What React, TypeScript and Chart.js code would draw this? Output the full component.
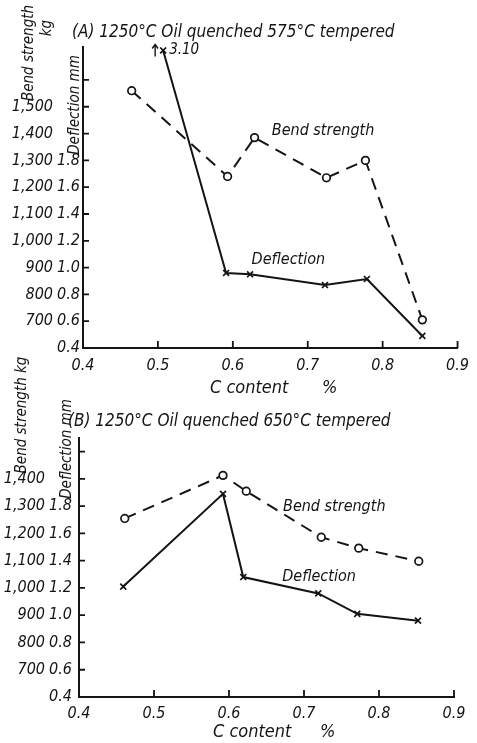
import React, { useEffect, useRef } from "react";
import { Chart, registerables } from "chart.js";
Chart.register(...registerables);

const FONT = '"Liberation Sans Narrow", "DejaVu Sans Condensed", "Arial Narrow", sans-serif';
const INK = "#141414";

// ---------- shared axis data ----------
const X_TICKS = [0.4, 0.5, 0.6, 0.7, 0.8, 0.9];
const DEFL_LABELS = [0.4, 0.6, 0.8, 1.0, 1.2, 1.4, 1.6, 1.8];
// bend strength (kg) = 700 + (deflection(mm) - 0.6) * 500
const bendFromDefl = (d: number) => 700 + (d - 0.6) * 500;

// ---------- panel A ----------
const A_TITLE = "(A) 1250°C Oil quenched 575°C tempered";
const A_BEND_C = [0.465, 0.593, 0.629, 0.725, 0.777, 0.853];
const A_BEND = [1560, 1240, 1385, 1235, 1300, 705];
const A_DEFL_C = [0.507, 0.591, 0.623, 0.723, 0.779, 0.853];
const A_DEFL = [3.1, 0.96, 0.95, 0.87, 0.915, 0.49];
const A_DEFL_CAP = 2.62; // off-scale values are drawn here, with an arrow
const A_DEFL_TICKS = [0.4, 0.6, 0.8, 1.0, 1.2, 1.4, 1.6, 1.8, 2.0, 2.2, 2.4];
const A_BEND_LABELS = [700, 800, 900, 1000, 1100, 1200, 1300, 1400, 1500];

// ---------- panel B ----------
const B_TITLE = "(B) 1250°C Oil quenched 650°C tempered";
const B_BEND_C = [0.461, 0.592, 0.623, 0.723, 0.773, 0.853];
const B_BEND = [1255, 1413, 1355, 1186, 1146, 1098];
const B_DEFL_C = [0.459, 0.592, 0.619, 0.719, 0.771, 0.852];
const B_DEFL = [1.21, 1.89, 1.28, 1.16, 1.01, 0.96];
const B_DEFL_CAP = 9;
const B_DEFL_TICKS = [0.4, 0.6, 0.8, 1.0, 1.2, 1.4, 1.6, 1.8, 2.0, 2.2];
const B_BEND_LABELS = [700, 800, 900, 1000, 1100, 1200, 1300, 1400];

type Spec = {
  title: string;
  bendC: number[]; bend: number[];
  deflC: number[]; defl: number[]; cap: number;
  deflTicks: number[]; bendLabels: number[];
  deflMax: number;
  L: any;
};

const PANELS: Spec[] = [
  {
    title: A_TITLE, bendC: A_BEND_C, bend: A_BEND, deflC: A_DEFL_C, defl: A_DEFL, cap: A_DEFL_CAP,
    deflTicks: A_DEFL_TICKS, bendLabels: A_BEND_LABELS, deflMax: 2.646,
    L: {
      top: 0, height: 395, areaTop: 47, padRight: 16, xHeight: 47, defW: 28, bendW: 55,
      defPad: 3, xPad: 8,
      titleX: 72, titleY: 33,
      xTitleX: 210, xPctX: 322, xTitleY: 388,
      bendTitle: [{ t: "Bend strength", x: 29, y: 53 }, { t: "kg", x: 47, y: 28 }],
      deflTitle: { t: "Deflection mm", x: 75, y: 105 },
      bendLabel: [0.652, 2.02], deflLabel: [0.625, 1.057],
    },
  },
  {
    title: B_TITLE, bendC: B_BEND_C, bend: B_BEND, deflC: B_DEFL_C, defl: B_DEFL, cap: B_DEFL_CAP,
    deflTicks: B_DEFL_TICKS, bendLabels: B_BEND_LABELS, deflMax: 2.3,
    L: {
      top: 340, height: 403, areaTop: 98, padRight: 23, xHeight: 46, defW: 32, bendW: 47,
      defPad: 7, xPad: 7,
      titleX: 68, titleY: 422,
      xTitleX: 213, xPctX: 320, xTitleY: 732,
      bendTitle: [{ t: "Bend strength kg", x: 22, y: 415 }],
      deflTitle: { t: "Deflection mm", x: 67, y: 449 },
      bendLabel: [0.672, 1.792], deflLabel: [0.671, 1.279],
    },
  },
];

const tickFont = { family: FONT, size: 16, style: "italic" as const };

function decor(p: Spec) {
  return {
    id: "decor",
    afterDraw(chart: any) {
      const ctx: CanvasRenderingContext2D = chart.ctx;
      const a = chart.chartArea;
      const xS = chart.scales.x;
      const yD = chart.scales.yDef;
      const L = p.L;
      const off = L.top;
      ctx.save();
      ctx.strokeStyle = INK;
      ctx.fillStyle = INK;
      ctx.lineWidth = 1.8;
      // inward tick marks
      ctx.beginPath();
      for (const d of p.deflTicks) {
        const y = yD.getPixelForValue(d);
        ctx.moveTo(a.left, y);
        ctx.lineTo(a.left + 6, y);
      }
      for (const v of X_TICKS.slice(1)) {
        const x = xS.getPixelForValue(v);
        ctx.moveTo(x, a.bottom);
        ctx.lineTo(x, a.bottom - 7);
      }
      ctx.stroke();

      ctx.textBaseline = "middle";
      ctx.textAlign = "left";
      // title
      ctx.font = `italic 17px ${FONT}`;
      ctx.fillText(p.title, L.titleX, L.titleY - off);
      // x title
      ctx.font = `italic 18px ${FONT}`;
      ctx.fillText("C content", L.xTitleX, L.xTitleY - off);
      ctx.fillText("%", L.xPctX, L.xTitleY - off);
      // rotated axis titles
      ctx.font = `italic 15px ${FONT}`;
      ctx.textAlign = "center";
      for (const t of [...L.bendTitle, L.deflTitle]) {
        ctx.save();
        ctx.translate(t.x, t.y - off);
        ctx.rotate(-Math.PI / 2);
        ctx.fillText(t.t, 0, 0);
        ctx.restore();
      }
      // series labels
      ctx.textAlign = "left";
      ctx.font = `italic 16px ${FONT}`;
      ctx.fillText("Bend strength", xS.getPixelForValue(L.bendLabel[0]), yD.getPixelForValue(L.bendLabel[1]));
      ctx.fillText("Deflection", xS.getPixelForValue(L.deflLabel[0]), yD.getPixelForValue(L.deflLabel[1]));
      // off-scale annotation
      p.defl.forEach((v, i) => {
        if (v > p.cap) {
          const px = xS.getPixelForValue(p.deflC[i]);
          const py = yD.getPixelForValue(p.cap);
          ctx.lineWidth = 1.4;
          ctx.beginPath();
          ctx.moveTo(px - 8, py + 6);
          ctx.lineTo(px - 8, py - 6);
          ctx.moveTo(px - 11, py - 2);
          ctx.lineTo(px - 8, py - 6);
          ctx.lineTo(px - 5, py - 2);
          ctx.stroke();
          ctx.font = `italic 15px ${FONT}`;
          ctx.fillText(v.toFixed(2), px + 6, py);
        }
      });
      ctx.restore();
    },
  };
}

function PanelChart({ p }: { p: Spec }) {
  const ref = useRef<HTMLCanvasElement>(null);
  const L = p.L;
  useEffect(() => {
    const chart = new Chart(ref.current as HTMLCanvasElement, {
      type: "line",
      data: {
        datasets: [
          {
            label: "Bend strength",
            data: p.bendC.map((c, i) => ({ x: c, y: p.bend[i] })),
            yAxisID: "yBend",
            borderColor: INK,
            borderWidth: 2,
            borderDash: [12, 8],
            pointStyle: "circle",
            pointRadius: 3.8,
            pointBorderWidth: 1.7,
            pointBackgroundColor: "#fff",
            pointBorderColor: INK,
            tension: 0,
          },
          {
            label: "Deflection",
            data: p.deflC.map((c, i) => ({ x: c, y: Math.min(p.defl[i], p.cap) })),
            yAxisID: "yDef",
            borderColor: INK,
            borderWidth: 2,
            pointStyle: "crossRot",
            pointRadius: 4.2,
            pointBorderWidth: 1.7,
            pointBorderColor: INK,
            pointBackgroundColor: INK,
            tension: 0,
          },
        ],
      } as any,
      options: {
        responsive: false,
        animation: false,
        layout: { padding: { top: L.areaTop, right: L.padRight, left: 0, bottom: 0 } },
        plugins: { legend: { display: false }, tooltip: { enabled: false } },
        scales: {
          x: {
            type: "linear",
            min: 0.4,
            max: 0.9,
            grid: { display: false, drawTicks: false },
            border: { display: true, color: INK, width: 2 },
            afterBuildTicks: (s: any) => { s.ticks = X_TICKS.map((v) => ({ value: v })); },
            afterFit: (s: any) => { s.height = L.xHeight; },
            ticks: { padding: L.xPad, font: tickFont, color: INK, maxRotation: 0, callback: (v: any) => Number(v).toFixed(1) },
          },
          yDef: {
            type: "linear",
            position: "left",
            weight: 0,
            min: 0.4,
            max: p.deflMax,
            grid: { display: false, drawTicks: false },
            border: { display: true, color: INK, width: 2 },
            afterBuildTicks: (s: any) => { s.ticks = DEFL_LABELS.map((v) => ({ value: v })); },
            afterFit: (s: any) => { s.width = L.defW; },
            ticks: { padding: L.defPad, font: tickFont, color: INK, callback: (v: any) => Number(v).toFixed(1) },
          },
          yBend: {
            type: "linear",
            position: "left",
            weight: 1,
            min: bendFromDefl(0.4),
            max: bendFromDefl(p.deflMax),
            grid: { display: false, drawTicks: false },
            border: { display: false },
            afterBuildTicks: (s: any) => { s.ticks = p.bendLabels.map((v) => ({ value: v })); },
            afterFit: (s: any) => { s.width = L.bendW; },
            ticks: { padding: 2, font: tickFont, color: INK, callback: (v: any) => Number(v).toLocaleString("en-US") },
          },
        },
      } as any,
      plugins: [decor(p)],
    });
    return () => chart.destroy();
  }, []);
  return (
    <canvas
      ref={ref}
      width={477}
      height={L.height}
      style={{ position: "absolute", left: 0, top: L.top, width: 477, height: L.height }}
    />
  );
}

export default function App() {
  return (
    <div style={{ position: "absolute", left: 0, top: 0, width: 477, height: 743, background: "#fff", overflow: "hidden" }}>
      {PANELS.map((p, i) => (
        <PanelChart key={i} p={p} />
      ))}
    </div>
  );
}
